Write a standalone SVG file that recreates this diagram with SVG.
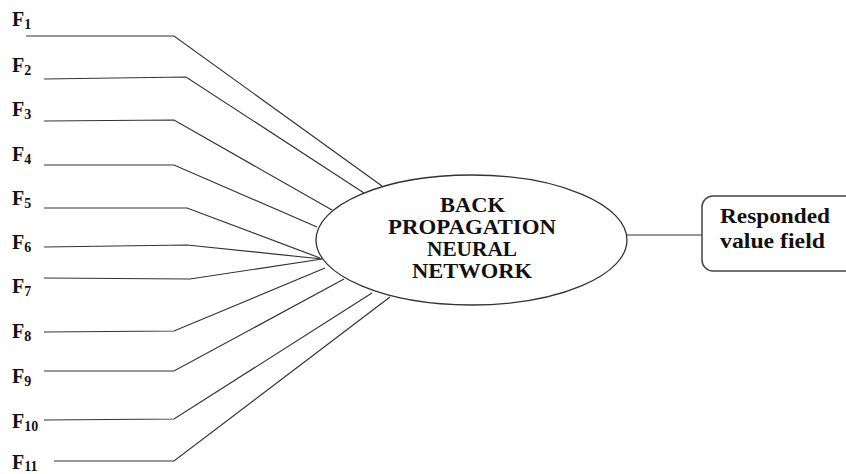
<svg xmlns="http://www.w3.org/2000/svg" width="846" height="474" viewBox="0 0 846 474">
<style>
.ln{fill:none;stroke:#333;stroke-width:1.2}
.f{font-family:"Liberation Serif","Times New Roman",serif;font-weight:bold;font-size:20px;fill:#111}
.s{font-size:14px}
.t{font-family:"Liberation Serif","Times New Roman",serif;font-weight:bold;font-size:20px;fill:#111}
</style>
<rect width="846" height="474" fill="#fff"/>
<g id="connectors">
<polyline class="ln" points="26,36 174,36 382,186"/>
<polyline class="ln" points="44,79 186,77 364,193"/>
<polyline class="ln" points="44,121 174,120 332,210"/>
<polyline class="ln" points="44,165 174,165 317,227"/>
<polyline class="ln" points="44,208 187,208 320,258"/>
<polyline class="ln" points="44,247 187,245 322,259"/>
<polyline class="ln" points="44,278 190,279 322,259"/>
<polyline class="ln" points="44,332 174,331 325,268"/>
<polyline class="ln" points="44,371 174,371 344,279"/>
<polyline class="ln" points="44,420 174,419 372,293"/>
<polyline class="ln" points="54,461 174,461 390,297"/>
<line class="ln" x1="627" y1="235" x2="702" y2="235"/>
</g>
<g id="inputs">
<text class="f" x="12" y="26">F<tspan class="s" dy="3">1</tspan></text>
<text class="f" x="12" y="72">F<tspan class="s" dy="3">2</tspan></text>
<text class="f" x="12" y="116">F<tspan class="s" dy="3">3</tspan></text>
<text class="f" x="12" y="161">F<tspan class="s" dy="3">4</tspan></text>
<text class="f" x="12" y="205">F<tspan class="s" dy="3">5</tspan></text>
<text class="f" x="12" y="249">F<tspan class="s" dy="3">6</tspan></text>
<text class="f" x="12" y="293">F<tspan class="s" dy="3">7</tspan></text>
<text class="f" x="12" y="338">F<tspan class="s" dy="3">8</tspan></text>
<text class="f" x="12" y="383">F<tspan class="s" dy="3">9</tspan></text>
<text class="f" x="12" y="428">F<tspan class="s" dy="3">10</tspan></text>
<text class="f" x="12" y="469">F<tspan class="s" dy="2">11</tspan></text>
</g>
<g id="bpnn">
<ellipse cx="471.5" cy="240" rx="155.5" ry="65" fill="#fff" stroke="#333" stroke-width="1.3"/>
<text class="t" x="472.5" y="212" text-anchor="middle" textLength="65" lengthAdjust="spacingAndGlyphs">BACK</text>
<text class="t" x="472" y="234" text-anchor="middle" textLength="168" lengthAdjust="spacingAndGlyphs">PROPAGATION</text>
<text class="t" x="472" y="256" text-anchor="middle" textLength="90" lengthAdjust="spacingAndGlyphs">NEURAL</text>
<text class="t" x="472" y="278" text-anchor="middle" textLength="120" lengthAdjust="spacingAndGlyphs">NETWORK</text>
</g>
<g id="output">
<rect x="702" y="196" width="170" height="75" rx="11" fill="#fff" stroke="#444" stroke-width="1.5"/>
<text class="t" x="720" y="223" textLength="110" lengthAdjust="spacingAndGlyphs">Responded</text>
<text class="t" x="720" y="248" textLength="105" lengthAdjust="spacingAndGlyphs">value field</text>
</g>
</svg>
